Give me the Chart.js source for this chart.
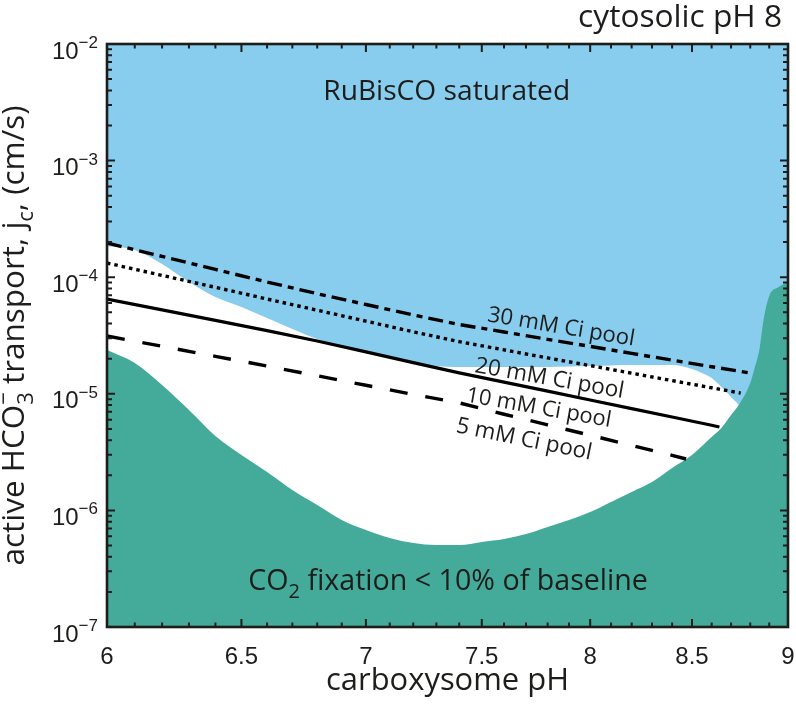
<!DOCTYPE html>
<html><head><meta charset="utf-8">
<script src="https://cdn.jsdelivr.net/npm/chart.js@4.4.1/dist/chart.umd.min.js"></script>
<style>html,body{margin:0;padding:0;background:#fff;}canvas{display:block;}</style>
</head><body>
<canvas id="c" width="796" height="708"></canvas>
<script>
// ---------- data ----------
const xTickValues = [6, 6.5, 7, 7.5, 8, 8.5, 9];
const xTickLabels = ['6', '6.5', '7', '7.5', '8', '8.5', '9'];
const yTickExponents = [-7, -6, -5, -4, -3, -2];
const yTickExpLabels = ['\u22127', '\u22126', '\u22125', '\u22124', '\u22123', '\u22122'];

const pool30PH = [6.0, 6.2, 6.4, 6.6, 6.8, 7.0, 7.2, 7.4, 7.6, 7.8, 8.0, 8.2, 8.4, 8.6, 8.8];
const pool30J  = [1.965e-4, 1.508e-4, 1.166e-4, 9.10e-5, 7.22e-5, 5.83e-5, 4.75e-5, 3.93e-5, 3.39e-5, 2.93e-5, 2.55e-5, 2.22e-5, 1.945e-5, 1.707e-5, 1.508e-5];

const pool20PH = [6.0, 6.2, 6.4, 6.6, 6.8, 7.0, 7.2, 7.4, 7.6, 7.8, 8.0, 8.2, 8.4, 8.6, 8.75];
const pool20J  = [1.323e-4, 1.036e-4, 8.19e-5, 6.50e-5, 5.21e-5, 4.20e-5, 3.40e-5, 2.80e-5, 2.38e-5, 2.03e-5, 1.745e-5, 1.502e-5, 1.297e-5, 1.126e-5, 1.014e-5];

const pool10PH = [6.0, 6.2, 6.4, 6.6, 6.8, 7.0, 7.2, 7.4, 7.6, 7.8, 8.0, 8.2, 8.4, 8.6, 8.64];
const pool10J  = [6.50e-5, 5.24e-5, 4.26e-5, 3.48e-5, 2.84e-5, 2.29e-5, 1.85e-5, 1.51e-5, 1.258e-5, 1.053e-5, 8.85e-6, 7.46e-6, 6.32e-6, 5.38e-6, 5.19e-6];

const pool5PH = [6.0, 6.2, 6.4, 6.6, 6.8, 7.0, 7.2, 7.4, 7.6, 7.8, 8.0, 8.2, 8.4, 8.47];
const pool5J  = [3.13e-5, 2.555e-5, 2.097e-5, 1.731e-5, 1.427e-5, 1.183e-5, 9.88e-6, 8.36e-6, 6.68e-6, 5.41e-6, 4.41e-6, 3.61e-6, 2.97e-6, 2.76e-6];

// lower edge of the "RuBisCO saturated" region
const saturationPH = [6.0, 6.1, 6.2, 6.3, 6.4, 6.5, 6.6, 6.7, 6.8, 6.9, 7.0, 7.1, 7.2, 7.3, 7.4, 7.6, 7.8, 8.0, 8.2, 8.4, 8.5, 8.55, 8.6, 8.65, 8.7, 8.75, 8.8, 9.0];
const saturationJ  = [1.852e-4, 1.711e-4, 1.297e-4, 9.10e-5, 6.76e-5, 5.55e-5, 4.47e-5, 3.59e-5, 2.95e-5, 2.57e-5, 2.28e-5, 2.07e-5, 1.874e-5, 1.731e-5, 1.698e-5, 1.698e-5, 1.698e-5, 1.731e-5, 1.766e-5, 1.766e-5, 1.632e-5, 1.508e-5, 1.366e-5, 1.144e-5, 9.39e-6, 7.55e-6, 5e-6, 5e-6];

// upper edge of the "CO2 fixation < 10% of baseline" region
const fixationPH = [6.0, 6.1, 6.2, 6.3, 6.4, 6.5, 6.6, 6.7, 6.8, 6.9, 7.0, 7.1, 7.2, 7.3, 7.4, 7.5, 7.6, 7.7, 7.8, 7.9, 8.0, 8.1, 8.2, 8.3, 8.4, 8.5, 8.6, 8.65, 8.7, 8.75, 8.8, 8.82, 8.85, 8.87, 8.9, 8.95, 9.0];
const fixationJ  = [2.375e-5, 1.837e-5, 1.190e-5, 7.26e-6, 4.35e-6, 2.99e-6, 2.135e-6, 1.496e-6, 1.112e-6, 8.27e-7, 6.79e-7, 5.80e-7, 5.25e-7, 5.05e-7, 5.05e-7, 5.36e-7, 5.68e-7, 6.27e-7, 7.20e-7, 8.27e-7, 9.69e-7, 1.180e-6, 1.438e-6, 1.752e-6, 2.31e-6, 2.99e-6, 4.26e-6, 5.09e-6, 6.58e-6, 8.51e-6, 1.238e-5, 1.60e-5, 2.5e-5, 4.29e-5, 6.90e-5, 8.24e-5, 9.10e-5];

const poolLabels = ['30 mM Ci pool', '20 mM Ci pool', '10 mM Ci pool', '5 mM Ci pool'];
const poolLabelPH = [7.858, 7.803, 7.754, 7.685];
const poolLabelJ = [3.29e-5, 1.19e-5, 6.68e-6, 3.58e-6];
const poolLabelAngle = [9.5, 10.0, 10.0, 11.5];
const poolLabelWidth = [149, 151, 147, 138];

// ---------- styling ----------
const BLUE = '#88CCEE';
const TEAL = '#44AA99';
const INK = '#1d1d1b';
const SANS = '"Open Sans", "Noto Sans", sans-serif';
const ARIAL = '"Liberation Sans", Arial, sans-serif';

const pts = (xs, ys) => xs.map((v, i) => ({x: v, y: ys[i]}));

function richWidth(ctx, segs, size, fam) {
  let w = 0;
  for (const s of segs) {
    if (s.sub !== undefined || s.sup !== undefined) {
      ctx.font = (size * 0.7) + 'px ' + fam;
      const a = s.sub !== undefined ? ctx.measureText(s.sub).width : 0;
      const b = s.sup !== undefined ? ctx.measureText(s.sup).width : 0;
      w += Math.max(a, b);
    } else {
      ctx.font = size + 'px ' + fam;
      w += ctx.measureText(s.t).width;
    }
  }
  return w;
}
function drawRich(ctx, segs, size, fam, x0, y0) {
  let x = x0;
  ctx.textAlign = 'left';
  ctx.textBaseline = 'alphabetic';
  for (const s of segs) {
    if (s.sub !== undefined || s.sup !== undefined) {
      const fs = size * 0.7;
      ctx.font = fs + 'px ' + fam;
      let a = 0, b = 0;
      if (s.sub !== undefined) { ctx.fillText(s.sub, x, y0 + size * 0.28); a = ctx.measureText(s.sub).width; }
      if (s.sup !== undefined) { ctx.fillText(s.sup, x, y0 - size * 0.40); b = ctx.measureText(s.sup).width; }
      x += Math.max(a, b);
    } else {
      ctx.font = size + 'px ' + fam;
      ctx.fillText(s.t, x, y0);
      x += ctx.measureText(s.t).width;
    }
  }
}
function fitSize(ctx, segs, fam, target) {
  return 100 * target / richWidth(ctx, segs, 100, fam);
}
// draw rich text centred at (cx, baseline cy), rotated by angle (deg)
function drawRichCentered(ctx, segs, fam, target, cx, cy, angle) {
  const size = fitSize(ctx, segs, fam, target);
  const w = richWidth(ctx, segs, size, fam);
  ctx.save();
  ctx.translate(cx, cy);
  ctx.rotate(angle * Math.PI / 180);
  drawRich(ctx, segs, size, fam, -w / 2, 0);
  ctx.restore();
}

const decorations = {
  id: 'decorations',
  afterDraw(chart) {
    const {ctx, chartArea: a} = chart;
    const xs = chart.scales.x, ys = chart.scales.y;
    ctx.save();
    ctx.fillStyle = INK;
    ctx.strokeStyle = INK;

    // ticks (inward, all four sides)
    ctx.lineWidth = 2;
    for (let i = 60; i <= 90; i++) {
      const px = xs.getPixelForValue(i / 10);
      const L = (i % 5 === 0) ? 8 : 4.5;
      ctx.beginPath();
      ctx.moveTo(px, a.bottom); ctx.lineTo(px, a.bottom - L);
      ctx.moveTo(px, a.top); ctx.lineTo(px, a.top + L);
      ctx.stroke();
    }
    for (let e = -7; e <= -2; e++) {
      for (let m = 1; m <= 9; m++) {
        if (e === -2 && m > 1) break;
        const py = ys.getPixelForValue(m * Math.pow(10, e));
        const L = m === 1 ? 8 : 5;
        ctx.beginPath();
        ctx.moveTo(a.left, py); ctx.lineTo(a.left + L, py);
        ctx.moveTo(a.right, py); ctx.lineTo(a.right - L, py);
        ctx.stroke();
      }
    }
    // frame
    ctx.lineWidth = 2.6;
    ctx.strokeRect(a.left, a.top, a.right - a.left, a.bottom - a.top);

    // x tick labels
    ctx.font = '24px ' + ARIAL;
    ctx.textAlign = 'center';
    ctx.textBaseline = 'alphabetic';
    xTickValues.forEach((v, i) => {
      ctx.fillText(xTickLabels[i], xs.getPixelForValue(v), a.bottom + 37);
    });
    // y tick labels 10^e
    yTickExponents.forEach((e, i) => {
      const py = ys.getPixelForValue(Math.pow(10, e));
      ctx.textAlign = 'left';
      ctx.font = '17px ' + ARIAL;
      const we = ctx.measureText(yTickExpLabels[i]).width;
      ctx.font = '24px ' + ARIAL;
      const wb = ctx.measureText('10').width;
      const right = a.left - 9;
      ctx.fillText('10', right - we - wb, py + 14.5);
      ctx.font = '17px ' + ARIAL;
      ctx.fillText(yTickExpLabels[i], right - we, py + 4);
    });

    // axis titles
    drawRichCentered(ctx, [{t: 'carboxysome pH'}], SANS, 243, (a.left + a.right) / 2, 690, 0);
    ctx.save();
    ctx.translate(24, (a.top + a.bottom) / 2);
    ctx.rotate(-Math.PI / 2);
    drawRichCentered(ctx, [{t: 'active HCO'}, {sub: '3', sup: '\u2212'}, {t: ' transport, j'}, {sub: 'c'}, {t: ', (cm/s)'}], SANS, 460, 0, 0, 0);
    ctx.restore();
    // panel title
    {
      const segs = [{t: 'cytosolic pH 8'}];
      const size = fitSize(ctx, segs, SANS, 204);
      ctx.font = size + 'px ' + SANS;
      ctx.textAlign = 'right';
      ctx.fillText('cytosolic pH 8', 782, 27);
    }

    // region labels
    drawRichCentered(ctx, [{t: 'RuBisCO saturated'}], SANS, 247,
      xs.getPixelForValue(7.345), ys.getPixelForValue(3.31e-3), 0);
    drawRichCentered(ctx, [{t: 'CO'}, {sub: '2'}, {t: ' fixation < 10% of baseline'}], SANS, 400,
      xs.getPixelForValue(7.351), ys.getPixelForValue(2.077e-7), 0);

    // pool labels
    poolLabels.forEach((t, i) => {
      drawRichCentered(ctx, [{t}], SANS, poolLabelWidth[i],
        xs.getPixelForValue(poolLabelPH[i]), ys.getPixelForValue(poolLabelJ[i]), poolLabelAngle[i]);
    });
    ctx.restore();
  }
};

const lineBase = {pointRadius: 0, fill: false, borderColor: '#000', borderCapStyle: 'butt', tension: 0};

new Chart(document.getElementById('c'), {
  type: 'line',
  data: {
    datasets: [
      {label: 'RuBisCO saturated', data: pts(saturationPH, saturationJ), fill: 'end',
        backgroundColor: BLUE, borderWidth: 0, borderColor: 'rgba(0,0,0,0)', pointRadius: 0,
        cubicInterpolationMode: 'monotone', order: 10},
      {label: 'CO2 fixation < 10% of baseline', data: pts(fixationPH, fixationJ), fill: 'start',
        backgroundColor: TEAL, borderWidth: 0, borderColor: 'rgba(0,0,0,0)', pointRadius: 0,
        cubicInterpolationMode: 'monotone', order: 9},
      Object.assign({label: '30 mM Ci pool', data: pts(pool30PH, pool30J), borderWidth: 3.4, borderDash: [15, 6, 6, 6], order: 4}, lineBase),
      Object.assign({label: '20 mM Ci pool', data: pts(pool20PH, pool20J), borderWidth: 3.4, borderDash: [3.5, 4], order: 3}, lineBase),
      Object.assign({label: '10 mM Ci pool', data: pts(pool10PH, pool10J), borderWidth: 3.2, borderDash: [], order: 2}, lineBase),
      Object.assign({label: '5 mM Ci pool', data: pts(pool5PH, pool5J), borderWidth: 3.4, borderDash: [18, 18], order: 1}, lineBase)
    ]
  },
  options: {
    responsive: false,
    animation: false,
    devicePixelRatio: 1,
    layout: {padding: {left: 0, right: 8, top: 44, bottom: 0}},
    plugins: {legend: {display: false}, tooltip: {enabled: false}},
    scales: {
      x: {type: 'logarithmic', min: 6, max: 9, grid: {display: false}, border: {display: false},
        ticks: {display: false}, afterFit(s) { s.height = 81; }},
      y: {type: 'logarithmic', min: 1e-7, max: 1e-2, grid: {display: false}, border: {display: false},
        ticks: {display: false}, afterFit(s) { s.width = 107; }}
    }
  },
  plugins: [decorations]
});
</script>
</body></html>
